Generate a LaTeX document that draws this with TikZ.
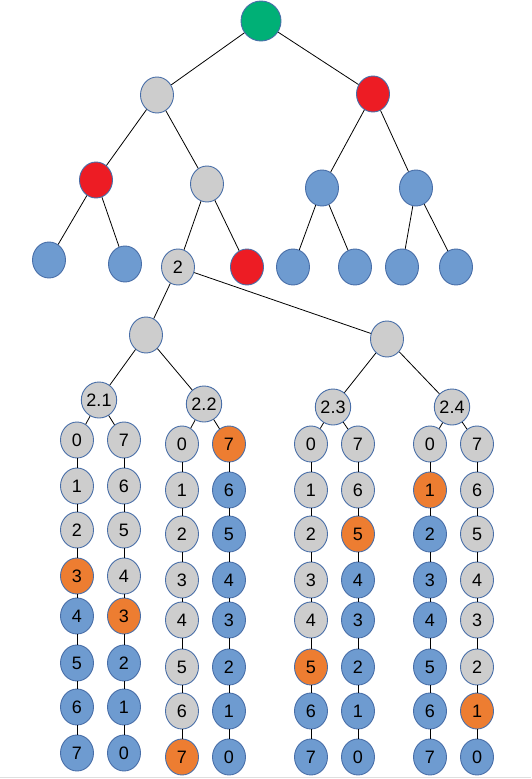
\documentclass[tikz,border=0pt]{standalone}
\usepackage{fontspec}
\setmainfont{Liberation Sans}
\usepackage{xcolor}
\usepackage{tikz}
\usetikzlibrary{shapes.geometric}
\definecolor{rootgreen}{RGB}{0, 176, 118}
\definecolor{cutred}{RGB}{237, 28, 36}
\definecolor{nodegrey}{RGB}{205, 205, 205}
\definecolor{nodeblue}{RGB}{110, 155, 208}
\definecolor{hitorange}{RGB}{237, 125, 49}
\definecolor{nodeborder}{RGB}{72, 110, 168}
\tikzset{
  x=1pt, y=-1pt,
  basenode/.style={
    ellipse, draw=nodeborder, line width=0.9pt,
    minimum width=33pt, minimum height=36pt, inner sep=0pt,
    font=\fontsize{18}{20}\selectfont
  },
  rootnode/.style={basenode, fill=rootgreen, minimum width=40pt, minimum height=40pt},
  greynode/.style={basenode, fill=nodegrey},
  bluenode/.style={basenode, fill=nodeblue},
  rednode/.style={basenode, fill=cutred},
  orangenode/.style={basenode, fill=hitorange},
  treeline/.style={draw=black, line width=0.8pt}
}
% one column of eight nodes hanging under a 2.x node
\newcommand{\nodecolumn}[4]{%
  \foreach \lab/\sty [count=\i from 0] in {#4} {%
    \pgfmathsetmacro{\dy}{{0,46,90,136,176,223,267,313}[\i]}%
    \node[\sty] (#1-\i) at (#2,{#3+\dy}) {\lab};
  }%
  \foreach \i [evaluate=\i as \j using int(\i+1)] in {0,...,6} {\draw[treeline] (#1-\i) -- (#1-\j);}%
}

\begin{document}
\begin{tikzpicture}
  \useasboundingbox (0,0) rectangle (531,779);
  \draw[gray!25, line width=1.5pt] (0,777.5) -- (531,777.5);

  % upper tree
  \node[rootnode] (root) at (261,21) {};
  \node[greynode] (a) at (157,95) {};
  \node[rednode] (b) at (373,94) {};
  \node[rednode] (aa) at (96,180) {};
  \node[greynode] (ab) at (207,184) {};
  \node[bluenode] (ba) at (322,188) {};
  \node[bluenode] (bb) at (416,188) {};
  \node[bluenode] (aaa) at (49,260) {};
  \node[bluenode] (aab) at (125,264) {};
  \node[greynode] (aba) at (178,267) {2};
  \node[rednode] (abb) at (247,267) {};
  \node[bluenode] (baa) at (293,267) {};
  \node[bluenode] (bab) at (355,267) {};
  \node[bluenode] (bba) at (402,267) {};
  \node[bluenode] (bbb) at (456,267) {};

  \draw[treeline] (root) -- (a);
  \draw[treeline] (root) -- (b);
  \draw[treeline] (a) -- (aa);
  \draw[treeline] (a) -- (ab);
  \draw[treeline] (b) -- (ba);
  \draw[treeline] (b) -- (bb);
  \draw[treeline] (aa) -- (aaa);
  \draw[treeline] (aa) -- (aab);
  \draw[treeline] (ab) -- (aba);
  \draw[treeline] (ab) -- (abb);
  \draw[treeline] (ba) -- (baa);
  \draw[treeline] (ba) -- (bab);
  \draw[treeline] (bb) -- (bba);
  \draw[treeline] (bb) -- (bbb);

  % expansion of node 2
  \node[greynode] (m1) at (146,335) {};
  \node[greynode] (m2) at (387,339) {};
  \node[greynode] (s1) at (99,400) {2.1};
  \node[greynode] (s2) at (204,404) {2.2};
  \node[greynode] (s3) at (333,407) {2.3};
  \node[greynode] (s4) at (452,407) {2.4};

  \draw[treeline] (aba) -- (m1);
  \draw[treeline] (aba) -- (m2);
  \draw[treeline] (m1) -- (s1);
  \draw[treeline] (m1) -- (s2);
  \draw[treeline] (m2) -- (s3);
  \draw[treeline] (m2) -- (s4);

  % columns
  \nodecolumn{s1l}{77}{440}{0/greynode,1/greynode,2/greynode,3/orangenode,4/bluenode,5/bluenode,6/bluenode,7/bluenode}
  \nodecolumn{s1r}{124}{440}{7/greynode,6/greynode,5/greynode,4/greynode,3/orangenode,2/bluenode,1/bluenode,0/bluenode}
  \nodecolumn{s2l}{182}{444}{0/greynode,1/greynode,2/greynode,3/greynode,4/greynode,5/greynode,6/greynode,7/orangenode}
  \nodecolumn{s2r}{229}{444}{7/orangenode,6/bluenode,5/bluenode,4/bluenode,3/bluenode,2/bluenode,1/bluenode,0/bluenode}
  \nodecolumn{s3l}{311}{444}{0/greynode,1/greynode,2/greynode,3/greynode,4/greynode,5/orangenode,6/bluenode,7/bluenode}
  \nodecolumn{s3r}{358}{444}{7/greynode,6/greynode,5/orangenode,4/bluenode,3/bluenode,2/bluenode,1/bluenode,0/bluenode}
  \nodecolumn{s4l}{430}{444}{0/greynode,1/orangenode,2/bluenode,3/bluenode,4/bluenode,5/bluenode,6/bluenode,7/bluenode}
  \nodecolumn{s4r}{477}{444}{7/greynode,6/greynode,5/greynode,4/greynode,3/greynode,2/greynode,1/orangenode,0/bluenode}

  \draw[treeline] (s1) -- (s1l-0);
  \draw[treeline] (s1) -- (s1r-0);
  \draw[treeline] (s2) -- (s2l-0);
  \draw[treeline] (s2) -- (s2r-0);
  \draw[treeline] (s3) -- (s3l-0);
  \draw[treeline] (s3) -- (s3r-0);
  \draw[treeline] (s4) -- (s4l-0);
  \draw[treeline] (s4) -- (s4r-0);
\end{tikzpicture}
\end{document}
